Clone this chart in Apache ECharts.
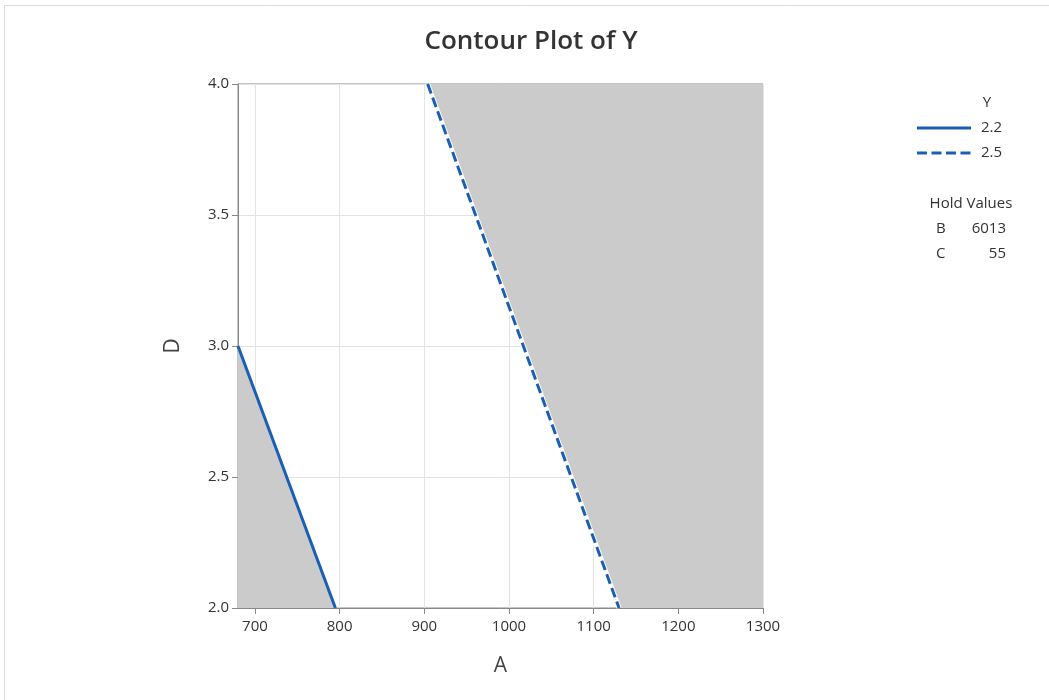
<!DOCTYPE html>
<html>
<head>
<meta charset="utf-8">
<script src="https://cdn.jsdelivr.net/npm/echarts@6/dist/echarts.min.js"></script>
<style>
  html, body { margin: 0; padding: 0; background: #fff; }
  #chart { width: 1049px; height: 700px; }
</style>
</head>
<body>
<div id="chart"></div>
<script>
// contour levels of Y and their traces in the A-D plane (hold B=6013, C=55)
const levels = ['2.2', '2.5']
const contour22 = [[680, 3.0], [795, 2.0]]
const contour25 = [[904, 4.0], [1130, 2.0]]
// shaded region beyond 2.5 (right of the dashed contour)
const region25 = [[904, 4.0], [1130, 2.0], [1300, 2.0]]
const xTicks = [700, 800, 900, 1000, 1100, 1200, 1300]
const holdNames = ['B', 'C']
const holdValues = ['6013', '55']

const blue = '#1a5fb4'
const shade = '#cbcbcb'
const font = '"Open Sans", "Noto Sans", sans-serif'

var myChart = echarts.init(document.getElementById('chart'))

// legend + hold values block on the right
const sideGraphics = [
  {
    type: 'text', x: 987, y: 103,
    style: { text: 'Y', font: '15px ' + font, fill: '#333', align: 'center', verticalAlign: 'middle' }
  },
  {
    type: 'text', x: 971, y: 204,
    style: { text: 'Hold Values', font: '15px ' + font, fill: '#333', align: 'center', verticalAlign: 'middle' }
  }
]
levels.forEach((lv, i) => {
  const y = 128 + i * 25
  sideGraphics.push({
    type: 'line', shape: { x1: 917, y1: y, x2: 971, y2: y },
    style: { stroke: blue, lineWidth: 3, lineDash: i === 0 ? null : [10, 4.5] }
  })
  sideGraphics.push({
    type: 'text', x: 981, y: y,
    style: { text: lv, font: '15px ' + font, fill: '#333', verticalAlign: 'middle' }
  })
})
holdNames.forEach((n, i) => {
  const y = 229 + i * 25
  sideGraphics.push({
    type: 'text', x: 936, y: y,
    style: { text: n, font: '15px ' + font, fill: '#333', verticalAlign: 'middle' }
  })
  sideGraphics.push({
    type: 'text', x: 1006, y: y,
    style: { text: holdValues[i], font: '15px ' + font, fill: '#333', align: 'right', verticalAlign: 'middle' }
  })
})

myChart.setOption({
  animation: false,
  backgroundColor: '#fff',
  title: {
    text: 'Contour Plot of Y',
    left: 526,
    textAlign: 'center',
    top: 24,
    textStyle: { fontFamily: font, fontSize: 26, fontWeight: 600, color: '#333' }
  },
  grid: {
    left: 238, right: 286, top: 84, bottom: 92,
    show: true, borderColor: '#888', borderWidth: 1, backgroundColor: '#fff'
  },
  xAxis: {
    type: 'value',
    min: 680, max: 1300,
    name: 'A',
    nameLocation: 'middle',
    nameGap: 48,
    nameTextStyle: { fontFamily: font, fontSize: 21, color: '#444' },
    axisLine: { show: true, lineStyle: { color: '#888' } },
    axisTick: { show: true, length: 6, customValues: xTicks, lineStyle: { color: '#888' } },
    axisLabel: { customValues: xTicks, margin: 11, fontFamily: font, fontSize: 15, color: '#333', formatter: v => String(v) },
    splitLine: { show: true, lineStyle: { color: '#e3e3e3' } }
  },
  yAxis: {
    type: 'value',
    min: 2, max: 4, interval: 0.5,
    name: 'D',
    nameLocation: 'middle',
    nameGap: 54,
    nameRotate: 90,
    nameTextStyle: { fontFamily: font, fontSize: 21, color: '#444' },
    axisLine: { show: true, lineStyle: { color: '#888' } },
    axisTick: { show: true, length: 6, lineStyle: { color: '#888' } },
    axisLabel: { margin: 9, fontFamily: font, fontSize: 15, color: '#333', formatter: v => v.toFixed(1) },
    splitLine: { show: true, lineStyle: { color: '#e3e3e3' } }
  },
  graphic: [
    {
      type: 'rect', left: 2, top: 3, shape: { width: 1060, height: 720 },
      style: { fill: 'none', stroke: '#dcdcdc', lineWidth: 1 }, silent: true
    }
  ].concat(sideGraphics),
  series: [
    {
      name: 'below 2.2',
      type: 'line',
      data: contour22,
      symbol: 'none',
      lineStyle: { width: 0 },
      areaStyle: { color: shade, opacity: 1, origin: 'start' },
      z: 1
    },
    {
      name: 'above 2.5',
      type: 'line',
      data: region25,
      symbol: 'none',
      lineStyle: { width: 0 },
      areaStyle: { color: shade, opacity: 1, origin: 'end' },
      z: 1
    },
    {
      name: 'halo',
      type: 'line',
      data: contour25,
      symbol: 'none',
      lineStyle: { width: 5, color: '#fff' },
      z: 2
    },
    {
      name: levels[0],
      type: 'line',
      data: contour22,
      symbol: 'none',
      lineStyle: { width: 3, color: blue, type: 'solid' },
      z: 3
    },
    {
      name: levels[1],
      type: 'line',
      data: contour25,
      symbol: 'none',
      lineStyle: { width: 3, color: blue, type: [10, 4.5] },
      z: 3
    }
  ]
})
</script>
</body>
</html>
